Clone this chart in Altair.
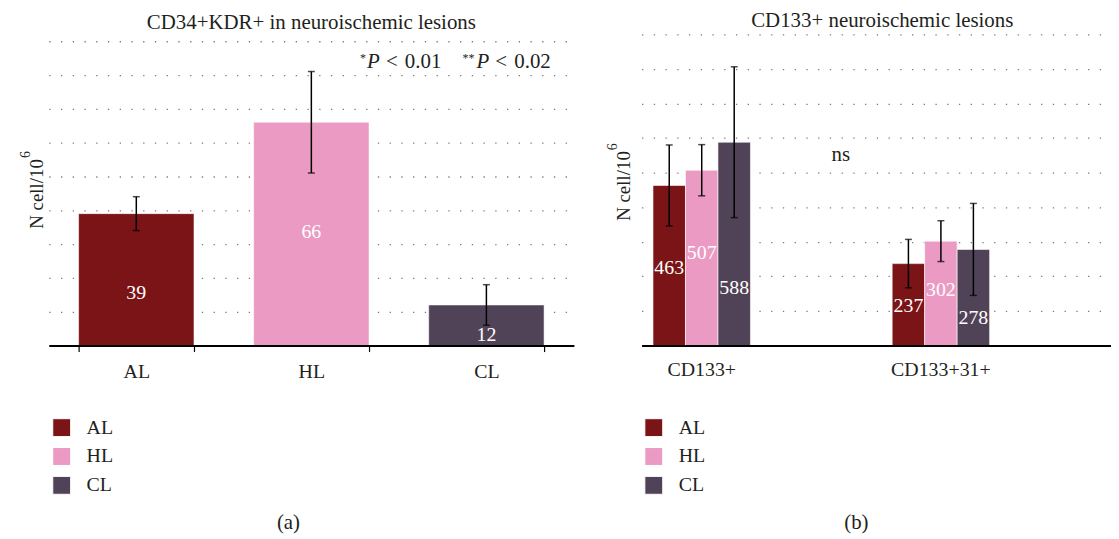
import altair as alt
import pandas as pd

# ---------------- data ----------------
GROUPS = ["AL", "HL", "CL"]
COLORS = ["#7b1417", "#eb9ac3", "#514357"]

# panel (a): CD34+KDR+
A_VALUES = [39, 66, 12]
A_ERRORS = [5, 15, 6]
A_GRID = [10, 20, 30, 40, 50, 60, 70, 80, 90]

# panel (b): CD133+
B_CATEGORIES = ["CD133+", "CD133+31+"]
B_VALUES_1 = [463, 507, 588]
B_ERRORS_1 = [117, 74, 218]
B_VALUES_2 = [237, 302, 278]
B_ERRORS_2 = [70, 59, 133]
B_GRID = [100, 200, 300, 400, 500, 600, 700, 800, 900]

TITLE_A = "CD34+KDR+ in neuroischemic lesions"
TITLE_B = "CD133+ neuroischemic lesions"
Y_TITLE = "N cell/10"
Y_SUP = "6"
CAPTION_A = "(a)"
CAPTION_B = "(b)"
NS_TEXT = "ns"

# ---------------- style ----------------
FONT = "Liberation Serif, Times New Roman, serif"
INK = "#231f20"
W_A, W_B, H = 528, 472, 313
LABEL_FRAC_A = {"AL": 0.40, "HL": 0.51, "CL": 0.26}
LABEL_FRAC_B = {"AL": 0.485, "HL": 0.53, "CL": 0.285}
GRID_DASH = [1.3, 10.5]
GRID_COLOR = "#7a7a7a"

df_a = pd.DataFrame({"group": GROUPS, "value": A_VALUES, "err": A_ERRORS})
df_a["lo"] = df_a["value"] - df_a["err"]
df_a["hi"] = df_a["value"] + df_a["err"]
df_a["label_y"] = df_a["value"] * df_a["group"].map(LABEL_FRAC_A)

df_b = pd.DataFrame({
    "cat": [B_CATEGORIES[0]] * 3 + [B_CATEGORIES[1]] * 3,
    "group": GROUPS + GROUPS,
    "value": B_VALUES_1 + B_VALUES_2,
    "err": B_ERRORS_1 + B_ERRORS_2,
})
df_b["lo"] = df_b["value"] - df_b["err"]
df_b["hi"] = df_b["value"] + df_b["err"]
df_b["label_y"] = df_b["value"] * df_b["group"].map(LABEL_FRAC_B)


def legend(lx):
    return alt.Legend(orient="none", legendX=lx, legendY=385.5, title=None,
                      direction="vertical", symbolType="square", symbolSize=324,
                      symbolStrokeWidth=1, labelFont=FONT, labelFontSize=20,
                      labelColor=INK, labelOffset=15, rowPadding=7, padding=0)


def note(text, x, y, size=21, style="normal", align="left", angle=0):
    return alt.Chart(pd.DataFrame({"t": [text]})).mark_text(
        align=align, baseline="alphabetic", font=FONT, fontSize=size,
        fontStyle=style, color=INK, angle=angle
    ).encode(x=alt.value(x), y=alt.value(y), text="t:N")


def y_axis(values):
    return alt.Axis(title=None, labels=False, ticks=False, domain=False, grid=True,
                    values=values, gridDash=GRID_DASH, gridColor=GRID_COLOR,
                    gridWidth=1.3, gridOpacity=1, zindex=0)


# ---------------- panel (a) ----------------
xa = alt.X("group:N", sort=GROUPS,
           scale=alt.Scale(domain=GROUPS, paddingInner=0.341, paddingOuter=0.1705),
           axis=alt.Axis(title=None, labelAngle=0, tickBand="extent", ticks=True,
                         tickSize=6, tickColor="black", tickWidth=1.2,
                         domainColor="black", domainWidth=2, labelFont=FONT,
                         labelFontSize=20, labelColor=INK, labelPadding=9.7,
                         grid=False, zindex=1))
ysc_a = alt.Scale(domain=[0, 92], nice=False)
ax_a = y_axis(A_GRID)
color_a = alt.Color("group:N", scale=alt.Scale(domain=GROUPS, range=COLORS), legend=legend(3))

base_a = alt.Chart(df_a)
bars_a = base_a.mark_bar(stroke="white", strokeWidth=1, strokeOpacity=0.5).encode(
    x=xa, y=alt.Y("value:Q", scale=ysc_a, axis=ax_a), color=color_a)
err_a = base_a.mark_rule(color="black", strokeWidth=1.5).encode(
    x=xa, y=alt.Y("lo:Q", scale=ysc_a, axis=ax_a), y2="hi:Q")
caplo_a = base_a.mark_tick(color="black", thickness=1.5, size=7).encode(
    x=xa, y=alt.Y("lo:Q", scale=ysc_a, axis=ax_a))
caphi_a = base_a.mark_tick(color="black", thickness=1.5, size=7).encode(
    x=xa, y=alt.Y("hi:Q", scale=ysc_a, axis=ax_a))
lab_a = base_a.mark_text(color="white", font=FONT, fontSize=20, baseline="middle").encode(
    x=xa, y=alt.Y("label_y:Q", scale=ysc_a, axis=ax_a), text="value:Q")

anchor = alt.Chart(pd.DataFrame({"t": [""]})).mark_rule(opacity=0, strokeWidth=0).encode(
    x=alt.value(-41), x2=alt.value(-41), y=alt.value(-24.5), y2=alt.value(-24.5))

notes_a = [
    note(TITLE_A, W_A / 2, -5.8, align="center"),
    note(Y_TITLE, -6, 125.5, size=19, align="right", angle=270),
    note(Y_SUP, -19, 124.5, size=14, align="left", angle=270),
    note("*", 313, 28, size=12),
    note("P", 320, 33.5, style="italic"),
    note("<", 339, 33.5),
    note("0.01", 358, 33.5),
    note("**", 416, 28, size=12),
    note("P", 430, 33.5, style="italic"),
    note("<", 449, 33.5),
    note("0.02", 468, 33.5),
    note(CAPTION_A, 241, 497.5, align="center"),
]

panel_a = alt.layer(bars_a, err_a, caplo_a, caphi_a, lab_a, anchor, *notes_a).properties(
    width=W_A, height=H)

# ---------------- panel (b) ----------------
xb = alt.X("cat:N", sort=B_CATEGORIES,
           scale=alt.Scale(domain=B_CATEGORIES, paddingInner=0.5925,
                           paddingOuter=0.2776, align=0.0861),
           axis=alt.Axis(title=None, labelAngle=0, ticks=False, tickSize=0,
                         domainColor="black", domainWidth=2, labelFont=FONT,
                         labelFontSize=20, labelColor=INK, labelPadding=13.7,
                         grid=False, zindex=1))
xo = alt.XOffset("group:N", sort=GROUPS,
                 scale=alt.Scale(domain=GROUPS, paddingInner=0, paddingOuter=0))
ysc_b = alt.Scale(domain=[0, 900], nice=False)
ax_b = y_axis(B_GRID)
color_b = alt.Color("group:N", scale=alt.Scale(domain=GROUPS, range=COLORS), legend=legend(2.3))

base_b = alt.Chart(df_b)
bars_b = base_b.mark_bar(stroke="white", strokeWidth=1, strokeOpacity=0.6).encode(
    x=xb, xOffset=xo, y=alt.Y("value:Q", scale=ysc_b, axis=ax_b), color=color_b)
err_b = base_b.mark_rule(color="black", strokeWidth=1.5).encode(
    x=xb, xOffset=xo, y=alt.Y("lo:Q", scale=ysc_b, axis=ax_b), y2="hi:Q")
caplo_b = base_b.mark_tick(color="black", thickness=1.5, size=7).encode(
    x=xb, xOffset=xo, y=alt.Y("lo:Q", scale=ysc_b, axis=ax_b))
caphi_b = base_b.mark_tick(color="black", thickness=1.5, size=7).encode(
    x=xb, xOffset=xo, y=alt.Y("hi:Q", scale=ysc_b, axis=ax_b))
lab_b = base_b.mark_text(color="white", font=FONT, fontSize=20, baseline="middle").encode(
    x=xb, xOffset=xo, y=alt.Y("label_y:Q", scale=ysc_b, axis=ax_b), text="value:Q")

notes_b = [
    note(TITLE_B, 242, -7.5, align="center"),
    note(Y_TITLE, -12, 117.5, size=19, align="right", angle=270),
    note(Y_SUP, -25, 116.5, size=14, align="left", angle=270),
    note(NS_TEXT, 191, 127.5),
    note(CAPTION_B, 216, 497.5, align="center"),
]

panel_b = alt.layer(bars_b, err_b, caplo_b, caphi_b, lab_b, *notes_b).properties(
    width=W_B, height=H)

chart = alt.hconcat(panel_a, panel_b, spacing=68, bounds="flush", padding=0).resolve_scale(
    color="independent"
).configure(font=FONT).configure_view(stroke=None)

chart.save("out.html", embed_options={"renderer": "svg", "actions": False})
